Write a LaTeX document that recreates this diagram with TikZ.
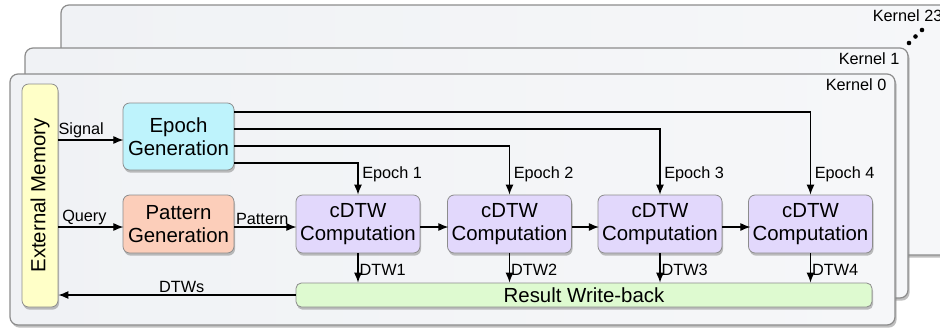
\documentclass[tikz,border=0pt]{standalone}
\usepackage{fontspec}
\setmainfont{Liberation Sans}
\usetikzlibrary{arrows.meta,shadows,calc}
\definecolor{extc}{RGB}{255,255,200}
\definecolor{epochc}{RGB}{190,243,252}
\definecolor{patc}{RGB}{252,206,186}
\definecolor{cdtwc}{RGB}{226,216,252}
\definecolor{resc}{RGB}{222,250,208}
\definecolor{edgec}{RGB}{140,140,140}
\definecolor{panelL}{RGB}{240,242,245}
\definecolor{panelM}{RGB}{218,225,233}
\definecolor{panelR}{RGB}{246,247,249}
\tikzset{
  panelbox/.style={draw=edgec, line width=0.9pt, rounded corners=6pt,
    left color=panelL, middle color=panelM, right color=panelR,
    drop shadow={shadow xshift=1.2pt, shadow yshift=-2pt, opacity=0.5}},
  blockbox/.style={draw=edgec, line width=0.6pt, rounded corners=5pt, align=center,
    font=\fontsize{15.3}{17.5}\selectfont, inner sep=1pt,
    drop shadow={shadow xshift=0.8pt, shadow yshift=-2pt, opacity=0.5}},
  lbl/.style={font=\fontsize{12.2}{14}\selectfont, inner sep=1pt},
  arr/.style={-{Latex[length=7.5pt,width=6pt]}, line width=0.85pt},
}
\begin{document}
\begin{tikzpicture}[x=0.75pt,y=-0.75pt]
\useasboundingbox (0,0) rectangle (940,333);
\begin{scope}
\clip (0,0) rectangle (940,333);
\path[panelbox] (61,5) rectangle (970,255);
\node[lbl, anchor=north east] (k23) at (944,8) {Kernel 23};
\end{scope}
\fill (909,43) circle (2.3) (915.5,36.5) circle (2.3) (922,30) circle (2.3);
\path[panelbox] (25,48) rectangle (908,298);
\node[lbl, anchor=north east] (k1) at (901,51) {Kernel 1};
\path[panelbox] (10,74) rectangle (895,325);
\node[lbl, anchor=north east] (k0) at (888,77) {Kernel 0};

\node[blockbox, fill=extc, rotate=90, minimum width=167.25pt, minimum height=27pt] (ext) at (40,195.5) {External Memory};
\node[blockbox, fill=epochc, minimum width=83.25pt, minimum height=50.25pt] (epoch) at (178.5,136.5) {Epoch\\Generation};
\node[blockbox, fill=patc, minimum width=83.25pt, minimum height=43.5pt] (pat) at (178.5,224) {Pattern\\Generation};
\node[blockbox, fill=cdtwc, minimum width=93pt, minimum height=43.5pt] (c1) at (358,224) {cDTW\\Computation};
\node[blockbox, fill=cdtwc, minimum width=93pt, minimum height=43.5pt] (c2) at (509.5,224) {cDTW\\Computation};
\node[blockbox, fill=cdtwc, minimum width=93pt, minimum height=43.5pt] (c3) at (660,224) {cDTW\\Computation};
\node[blockbox, fill=cdtwc, minimum width=93pt, minimum height=43.5pt] (c4) at (810.5,224) {cDTW\\Computation};
\node[blockbox, fill=resc, minimum width=432pt, minimum height=18pt, rounded corners=4pt] (res) at (584,295) {Result Write-back};

\draw[arr] (ext.south |- epoch.west) ++(0,3.5) -- node[lbl, above, pos=0.35] {Signal} ++(65,0);
\draw[arr] (ext.south |- pat.west) ++(0,3) -- node[lbl, above, pos=0.4] {Query} ++(65,0);
\draw[arr] (pat.east) ++(0,3) -- node[lbl, above, pos=0.45] {Pattern} ++(62,0);
\draw[arr] (c1.east) ++(0,3) -- ++(28,0);
\draw[arr] (c2.east) ++(0,3) -- ++(27,0);
\draw[arr] (c3.east) ++(0,3) -- ++(28,0);
\draw[arr] (res.west) -- node[lbl, above, pos=0.48] {DTWs} (res.west -| ext.south);

\draw[arr] (epoch.east) ++(0,-24.5) -| (c4.north);
\draw[arr] (epoch.east) ++(0,-7.5) -| (c3.north);
\draw[arr] (epoch.east) ++(0,9.5) -| (c2.north);
\draw[arr] (epoch.east) ++(0,26.5) -| (c1.north);
\node[lbl, anchor=west] (e1) at ([xshift=2pt,yshift=15.5pt]c1.north) {Epoch 1};
\node[lbl, anchor=west] (e2) at ([xshift=2pt,yshift=15.5pt]c2.north) {Epoch 2};
\node[lbl, anchor=west] (e3) at ([xshift=2pt,yshift=15.5pt]c3.north) {Epoch 3};
\node[lbl, anchor=west] (e4) at ([xshift=2pt,yshift=15.5pt]c4.north) {Epoch 4};

\foreach \c/\t in {c1/DTW1,c2/DTW2,c3/DTW3,c4/DTW4}{
  \draw[arr] (\c.south) -- (\c.south |- res.north);
  \node[lbl, anchor=west] at ([xshift=0pt,yshift=-12.5pt]\c.south) {\t};
}
\end{tikzpicture}
\end{document}
